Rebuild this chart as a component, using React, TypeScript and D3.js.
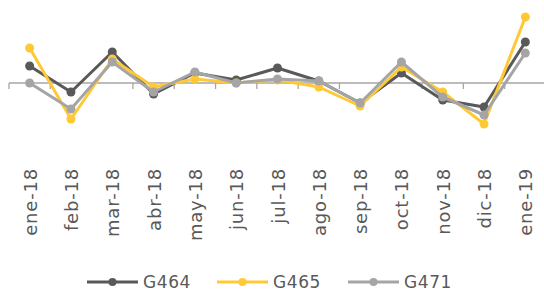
import React, { useEffect, useRef } from 'react';
import * as d3 from 'd3';

const months = ['ene-18', 'feb-18', 'mar-18', 'abr-18', 'may-18', 'jun-18', 'jul-18', 'ago-18', 'sep-18', 'oct-18', 'nov-18', 'dic-18', 'ene-19'];
const g464 = [1.7, -0.9, 3.1, -1.1, 1.0, 0.3, 1.5, 0.2, -2.0, 1.0, -1.7, -2.4, 4.1];
const g465 = [3.5, -3.6, 2.4, -0.4, 0.4, 0.0, 0.3, -0.4, -2.3, 1.6, -0.9, -4.1, 6.6];
const g471 = [0.0, -2.6, 2.1, -0.9, 1.1, 0.0, 0.4, 0.2, -2.0, 2.1, -1.4, -3.2, 3.0];
const seriesNames = ['G464', 'G465', 'G471'];

const W = 544, H = 291;
const FONT = '"DejaVu Sans", sans-serif';
const TEXT = '#595959';

const App = () => {
    const ref = useRef<SVGSVGElement>(null);

    useEffect(() => {
        const svg = d3.select(ref.current);
        svg.selectAll('*').remove();

        const series = [
            { name: seriesNames[0], values: g464, color: '#595959' },
            { name: seriesNames[1], values: g465, color: '#FFC935' },
            { name: seriesNames[2], values: g471, color: '#A5A5A5' },
        ];

        const x = d3.scaleBand().domain(months).range([9, 546]);
        const y = d3.scaleLinear().domain([-8.3, 8.3]).range([166, 0]);
        const cx = (m: string) => (x(m) as number) + x.bandwidth() / 2;

        // category axis at zero
        const axis = svg.append('g').attr('transform', `translate(0,${y(0)})`);
        axis.append('line').attr('x1', 9).attr('x2', 546).attr('stroke', '#A6A6A6').attr('stroke-width', 1.3);
        const edges = months.map(m => x(m) as number).concat([546]);
        axis.selectAll('line.t').data(edges).enter().append('line').attr('class', 't')
            .attr('x1', d => d).attr('x2', d => d).attr('y1', 0).attr('y2', 6)
            .attr('stroke', '#A6A6A6').attr('stroke-width', 1.3);

        const line = d3.line<number>().x((d, i) => cx(months[i])).y(d => y(d));

        series.forEach(s => {
            svg.append('path').datum(s.values).attr('d', line).attr('fill', 'none')
                .attr('stroke', s.color).attr('stroke-width', 3).attr('stroke-linejoin', 'round');
            svg.selectAll(null).data(s.values).enter().append('circle')
                .attr('cx', (d, i) => cx(months[i])).attr('cy', d => y(d)).attr('r', 4.5)
                .attr('fill', s.color);
        });

        // month labels
        svg.selectAll('text.m').data(months).enter().append('text').attr('class', 'm')
            .attr('transform', d => `translate(${cx(d) + 7},168) rotate(-90)`)
            .attr('text-anchor', 'end')
            .style('font-family', FONT).style('font-size', '18px').style('letter-spacing', '0.8px')
            .attr('fill', TEXT)
            .text(d => d);

        // legend
        const legX = [87, 217, 348];
        series.forEach((s, i) => {
            const g = svg.append('g').attr('transform', `translate(${legX[i]},282)`);
            g.append('line').attr('x1', 0).attr('x2', 51).attr('stroke', s.color).attr('stroke-width', 3);
            g.append('circle').attr('cx', 25.5).attr('r', 4).attr('fill', s.color);
            g.append('text').attr('x', 56).attr('dy', '0.36em')
                .style('font-family', FONT).style('font-size', '17px').style('letter-spacing', '0.6px')
                .attr('fill', TEXT)
                .text(s.name);
        });
    }, []);

    return <svg ref={ref} width={W} height={H} style={{ position: 'absolute', left: 0, top: 0 }} />;
};

export default App;
